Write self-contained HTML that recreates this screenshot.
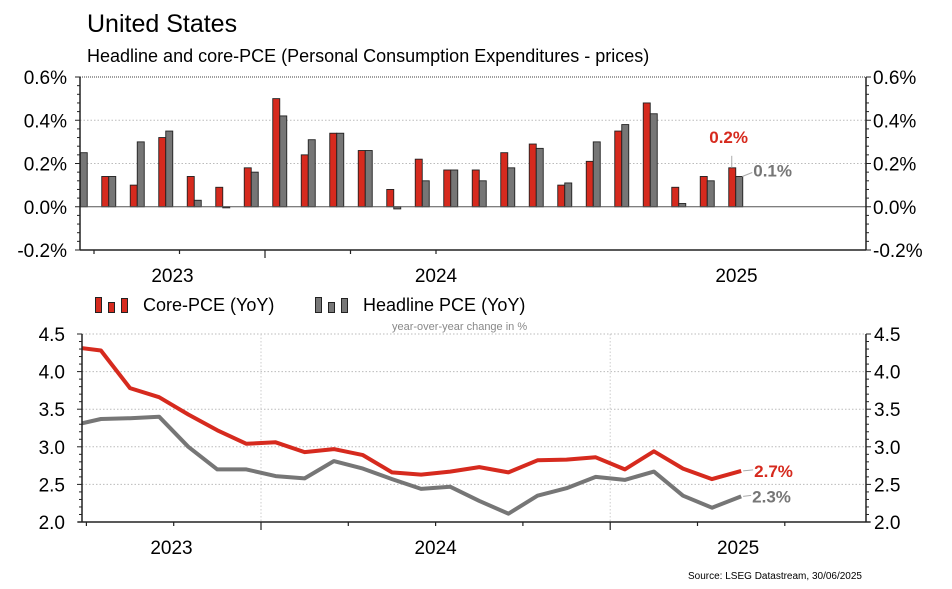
<!DOCTYPE html>
<html><head><meta charset="utf-8"><style>
body{margin:0;background:#fff;font-family:"Liberation Sans",Arial,sans-serif;}
svg text{font-family:"Liberation Sans",Arial,sans-serif;}
</style></head><body>
<svg id="c" width="952" height="584" viewBox="0 0 952 584" xmlns="http://www.w3.org/2000/svg">
<text x="87" y="32" font-size="25" fill="#000">United States</text>
<text x="87" y="62" font-size="18" fill="#000">Headline and core-PCE (Personal Consumption Expenditures - prices)</text>
<g id="top"></g>
<g id="legend">
 <g>
  <rect x="95.5" y="297.5" width="6" height="15" fill="#d62a1e" stroke="#222"/>
  <rect x="108.5" y="302.5" width="6" height="10" fill="#d62a1e" stroke="#222"/>
  <rect x="121.5" y="298.5" width="6" height="14" fill="#d62a1e" stroke="#222"/>
  <text x="143" y="311" font-size="18">Core-PCE (YoY)</text>
 </g>
 <g>
  <rect x="315.5" y="297.5" width="6" height="15" fill="#777" stroke="#222"/>
  <rect x="328.5" y="302.5" width="6" height="10" fill="#777" stroke="#222"/>
  <rect x="341.5" y="298.5" width="6" height="14" fill="#777" stroke="#222"/>
  <text x="363" y="311" font-size="18">Headline PCE (YoY)</text>
 </g>
</g>
<text x="392" y="330" font-size="11" fill="#888">year-over-year change in %</text>
<g id="bot"></g>
<text x="862" y="579" font-size="10" text-anchor="end" fill="#000">Source: LSEG Datastream, 30/06/2025</text>
</svg>
<script>
// ---- data ----
const barMonths = ["2023-06","2023-07","2023-08","2023-09","2023-10","2023-11","2023-12","2024-01","2024-02","2024-03","2024-04","2024-05","2024-06","2024-07","2024-08","2024-09","2024-10","2024-11","2024-12","2025-01","2025-02","2025-03","2025-04","2025-05"];
const coreMoM = [null,0.14,0.10,0.32,0.14,0.09,0.18,0.50,0.24,0.34,0.26,0.08,0.22,0.17,0.17,0.25,0.29,0.10,0.21,0.35,0.48,0.09,0.14,0.18];
const headMoM = [0.25,0.14,0.30,0.35,0.03,-0.005,0.16,0.42,0.31,0.34,0.26,-0.01,0.12,0.17,0.12,0.18,0.27,0.11,0.30,0.38,0.43,0.015,0.12,0.14];
const topTicks = [-0.2,0.0,0.2,0.4,0.6];
const topTickLabels = ["-0.2%","0.0%","0.2%","0.4%","0.6%"];
const lineMonths = ["2023-06","2023-07","2023-08","2023-09","2023-10","2023-11","2023-12","2024-01","2024-02","2024-03","2024-04","2024-05","2024-06","2024-07","2024-08","2024-09","2024-10","2024-11","2024-12","2025-01","2025-02","2025-03","2025-04","2025-05"];
const coreYoY = [4.33,4.28,3.78,3.66,3.43,3.22,3.04,3.06,2.93,2.97,2.89,2.66,2.63,2.67,2.73,2.66,2.82,2.83,2.86,2.70,2.94,2.71,2.57,2.68];
const headYoY = [3.28,3.37,3.38,3.40,3.00,2.70,2.70,2.61,2.58,2.81,2.71,2.57,2.44,2.47,2.28,2.11,2.35,2.45,2.60,2.56,2.67,2.35,2.19,2.34];
const botTicks = [2.0,2.5,3.0,3.5,4.0,4.5];
const botTickLabels = ["2.0","2.5","3.0","3.5","4.0","4.5"];
const yearLabels = ["2023","2024","2025"];
const coreLabel = "0.2%", headLabel = "0.1%", coreYoYLabel = "2.7%", headYoYLabel = "2.3%";

const NS="http://www.w3.org/2000/svg";
function mk(p,t,a){const e=document.createElementNS(NS,t);for(const k in a)e.setAttribute(k,a[k]);p.appendChild(e);return e;}
function mIdx(s){const [y,m]=s.split("-").map(Number);return (y-2024)*12+(m-1);}
const RED="#d62a1e",GRY="#767676";

// ---- top chart ----
(function(){
 const g=document.getElementById('top');
 const L=80,R=866,T=77,B=250,yMin=-0.2,yMax=0.6;
 const jan24=265,mw=28.5;
 const x=i=>jan24+(i+0.5)*mw; // month centre
 const y=v=>B-(v-yMin)/(yMax-yMin)*(B-T);
 const cp=mk(g,'clipPath',{id:'cpt'});mk(cp,'rect',{x:L,y:T-5,width:R-L,height:B-T+10});
 topTicks.forEach((t,i)=>{
  if(t>yMin&&t<yMax&&t!==0){const gl=mk(g,'line',{x1:L,x2:R,y1:y(t),y2:y(t),stroke:'#bbb','stroke-dasharray':'1.5 2'});}
  const a=mk(g,'text',{x:L-13,y:y(t)+7,'font-size':19,'text-anchor':'end'});a.textContent=topTickLabels[i];
  
  const b=mk(g,'text',{x:R+7,y:y(t)+7,'font-size':19});b.textContent=topTickLabels[i];
  
 });
 mk(g,'line',{x1:L,x2:R,y1:T,y2:T,stroke:'#666','stroke-width':1.2,'stroke-dasharray':'1 1'});
 const bars=mk(g,'g',{'clip-path':'url(#cpt)'});
 barMonths.forEach((m,k)=>{
  const cx=x(mIdx(m));
  [[coreMoM[k],cx-7,RED,'bar-core'],[headMoM[k],cx,GRY,'bar-headline']].forEach(([v,bx,c,n])=>{
   if(v===null)return;
   const y0=y(0),y1=y(v);
   const r=mk(bars,'rect',{x:bx+0.5,y:Math.min(y0,y1),width:7,height:Math.max(Math.abs(y1-y0),1),fill:c,stroke:'#222','stroke-width':0.9});
   
  });
 });
 mk(g,'line',{x1:L,x2:R,y1:y(0),y2:y(0),stroke:'#555','stroke-width':1});
 mk(g,'line',{x1:L,x2:L,y1:T,y2:B,stroke:'#222','stroke-width':1.5});
 mk(g,'line',{x1:R,x2:R,y1:T,y2:B,stroke:'#222','stroke-width':1.5});
 mk(g,'line',{x1:L,x2:R,y1:B,y2:B,stroke:'#222','stroke-width':1.5});
 for(let v=yMin;v<=yMax+1e-9;v+=0.04){const yy=y(v),big=Math.abs(v*5-Math.round(v*5))<1e-6;
  mk(g,'line',{x1:L-(big?5:3),x2:L,y1:yy,y2:yy,stroke:'#222'});mk(g,'line',{x1:R,x2:R+(big?5:3),y1:yy,y2:yy,stroke:'#222'});}
 for(let q=-6;q<=8;q+=3){const xx=jan24+q*mw;if(xx<L||xx>R)continue;const maj=q%12===0;
  mk(g,'line',{x1:xx,x2:xx,y1:B,y2:B+(maj?8:4),stroke:'#222','stroke-width':1.2});}
 [[L,jan24],[jan24,jan24+12*mw],[jan24+12*mw,R]].forEach((s,i)=>{
  const t=mk(g,'text',{x:(s[0]+s[1])/2,y:282,'font-size':19,'text-anchor':'middle'});t.textContent=yearLabels[i];
  });
 const last=barMonths.length-1,lx=x(mIdx(barMonths[last]));
 const yc=y(coreMoM[last]),yh=y(headMoM[last]);
 mk(g,'line',{x1:lx-3.5,x2:lx-3.5,y1:yc,y2:yc-12,stroke:'#aaa'});
 const t1=mk(g,'text',{x:lx-26,y:yc-25,'font-size':17,'font-weight':'bold',fill:RED});t1.textContent=coreLabel;
 
 mk(g,'line',{x1:lx+7,x2:lx+17,y1:yh,y2:yh-4,stroke:'#aaa'});
 const t2=mk(g,'text',{x:lx+18,y:yh,'font-size':17,'font-weight':'bold',fill:GRY});t2.textContent=headLabel;
 
})();

// ---- bottom chart ----
(function(){
 const g=document.getElementById('bot');
 const L=82,R=866,T=334,B=522,yMin=2.0,yMax=4.5;
 const jan24=261,mw=29.1;
 const x=i=>jan24+(i+0.5)*mw;
 const y=v=>B-(v-yMin)/(yMax-yMin)*(B-T);
 const cp=mk(g,'clipPath',{id:'cpb'});mk(cp,'rect',{x:L,y:T-10,width:R-L,height:B-T+20});
 botTicks.forEach((t,i)=>{
  if(t>yMin){const gl=mk(g,'line',{x1:L,x2:R,y1:y(t),y2:y(t),stroke:'#bbb','stroke-dasharray':'1.5 2'});}
  const a=mk(g,'text',{x:L-17,y:y(t)+7,'font-size':19,'text-anchor':'end'});a.textContent=botTickLabels[i];
  
  const b=mk(g,'text',{x:R+8,y:y(t)+7,'font-size':19});b.textContent=botTickLabels[i];
  
 });
 [jan24,jan24+12*mw].forEach(xx=>mk(g,'line',{x1:xx,x2:xx,y1:T,y2:B,stroke:'#ccc','stroke-dasharray':'1.5 2'}));
 const lines=mk(g,'g',{'clip-path':'url(#cpb)'});
 [[headYoY,GRY,'line-headline-yoy'],[coreYoY,RED,'line-core-yoy']].forEach(([arr,c,n])=>{
  const d=arr.map((v,k)=>(k?'L':'M')+x(mIdx(lineMonths[k])).toFixed(1)+' '+y(v).toFixed(1)).join(' ');
  const p=mk(lines,'path',{d:d,fill:'none',stroke:c,'stroke-width':4,'stroke-linejoin':'round'});
  
 });
 mk(g,'line',{x1:L,x2:L,y1:T,y2:B,stroke:'#222','stroke-width':1.5});
 mk(g,'line',{x1:R,x2:R,y1:T,y2:B,stroke:'#222','stroke-width':1.5});
 mk(g,'line',{x1:L-4,x2:R+4,y1:B,y2:B,stroke:'#222','stroke-width':1.5});
 for(let v=yMin;v<=yMax+1e-9;v+=0.1){const yy=y(v),big=Math.abs(v*2-Math.round(v*2))<1e-6;
  mk(g,'line',{x1:L-(big?5:3),x2:L,y1:yy,y2:yy,stroke:'#222'});mk(g,'line',{x1:R,x2:R+(big?5:3),y1:yy,y2:yy,stroke:'#222'});}
 for(let q=-6;q<=8*3;q+=3){const xx=jan24+q*mw;if(xx<L||xx>R)continue;const maj=q%12===0;
  mk(g,'line',{x1:xx,x2:xx,y1:B,y2:B+(maj?8:4),stroke:'#222','stroke-width':1.2});}
 [[L,jan24],[jan24,jan24+12*mw],[jan24+12*mw,R]].forEach((s,i)=>{
  const t=mk(g,'text',{x:(s[0]+s[1])/2,y:554,'font-size':19,'text-anchor':'middle'});t.textContent=yearLabels[i];
  });
 const last=lineMonths.length-1,lx=x(mIdx(lineMonths[last]));
 const yc=y(coreYoY[last]),yh=y(headYoY[last]);
 mk(g,'line',{x1:lx+2,x2:lx+12,y1:yc,y2:yc-1,stroke:'#aaa'});
 const t1=mk(g,'text',{x:lx+13,y:yc+6,'font-size':17,'font-weight':'bold',fill:RED});t1.textContent=coreYoYLabel;
 
 mk(g,'line',{x1:lx+2,x2:lx+10,y1:yh,y2:yh-1,stroke:'#aaa'});
 const t2=mk(g,'text',{x:lx+11,y:yh+6,'font-size':17,'font-weight':'bold',fill:GRY});t2.textContent=headYoYLabel;
 
})();
</script>
</body></html>
